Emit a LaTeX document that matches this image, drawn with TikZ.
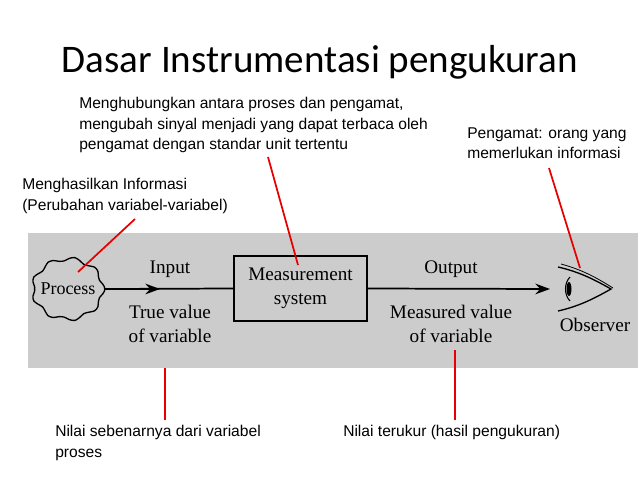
\documentclass[tikz,border=0pt]{standalone}
\usepackage{fontspec}
\setmainfont{Liberation Serif}
\newfontfamily\ttl{Carlito}
\newfontfamily\ar{Liberation Sans}
\usetikzlibrary{arrows.meta}
\begin{document}
\begin{tikzpicture}[x=0.75pt,y=-0.75pt,
  note/.style={font=\ar\fontsize{11.7}{15.5}\selectfont,align=left,anchor=north west,inner sep=0},
  dia/.style={font=\fontsize{14.4}{18}\selectfont,align=center,inner sep=0},
  red/.style={draw={rgb,255:red,230;green,0;blue,0},line width=1.3pt},
  flow/.style={line width=1.3pt,-{Stealth[length=11pt,width=8pt]}}]
\useasboundingbox (0,0) rectangle (638,478);
\fill[white] (0,0) rectangle (638,478);
\fill[black!20] (28,233) rectangle (638,368);
\node[font=\ttl\fontsize{29.3}{32}\selectfont] (title) at (320,62) {Dasar Instrumentasi pengukuran};
% cloud
\draw[line width=1pt] plot[smooth cycle,samples=41,domain=0:351] ({68+(35+2*cos(9*\x))*cos(\x)},{289+(30+2*cos(9*\x))*sin(\x)});
\node[dia,font=\fontsize{13.5}{17}\selectfont] (proc) at (68,289) {Process};
\coordinate (procR) at (104,289);
\node[draw,line width=1.3pt,minimum width=133*0.75pt,minimum height=65*0.75pt,dia] (ms) at (300.5,288.5) {Measurement\\system};
\coordinate (mid) at (160,289);
\draw[line width=1.3pt] (procR) -- (ms.west);
\draw[flow] (procR) -- (mid);
\coordinate (obsL) at (550,289);
\draw[flow] (ms.east) -- (obsL);
\node[dia] (in) at (170,269) {Input};
\node[dia] (tv) at (170,324) {True value\\of variable};
\node[dia] (out) at (451,269) {Output};
\node[dia] (mv) at (451,324) {Measured value\\of variable};
% eye
\draw[line width=1pt] (558,267) .. controls (580,272) and (595,280) .. (611,289) .. controls (595,298) and (580,306) .. (558,311);
\draw[line width=0.6pt] (561,264) .. controls (583,270) and (597,278) .. (613,288);
\draw[line width=0.8pt] (570,277) .. controls (564,283) and (564,295) .. (570,301);
\fill (569,289) ellipse (2.5 and 7);
\node[dia] (obs) at (595,325) {Observer};
% notes
\node[note] (n1) at (79,97) {Menghubungkan antara proses dan pengamat,\\mengubah sinyal menjadi yang dapat terbaca oleh\\pengamat dengan standar unit tertentu};
\node[note] (n2) at (467,127) {Pengamat: orang yang\\memerlukan informasi};
\node[note] (n3) at (22,178) {Menghasilkan Informasi\\(Perubahan variabel-variabel)};
\node[note] (n4) at (55,425) {Nilai sebenarnya dari variabel\\proses};
\node[note] (n5) at (343,425) {Nilai terukur (hasil pengukuran)};
\coordinate (a1) at (135,219); \coordinate (b1) at (78,272);
\coordinate (a2) at (268,157); \coordinate (b2) at (298,265);
\coordinate (a3) at (549,168); \coordinate (b3) at (580,268);
\coordinate (a4) at (165,368); \coordinate (b4) at (165,420);
\coordinate (a5) at (455,350); \coordinate (b5) at (455,420);
\draw[red] (a1)--(b1); \draw[red] (a2)--(b2); \draw[red] (a3)--(b3);
\draw[red] (a4)--(b4); \draw[red] (a5)--(b5);
\end{tikzpicture}
\end{document}
